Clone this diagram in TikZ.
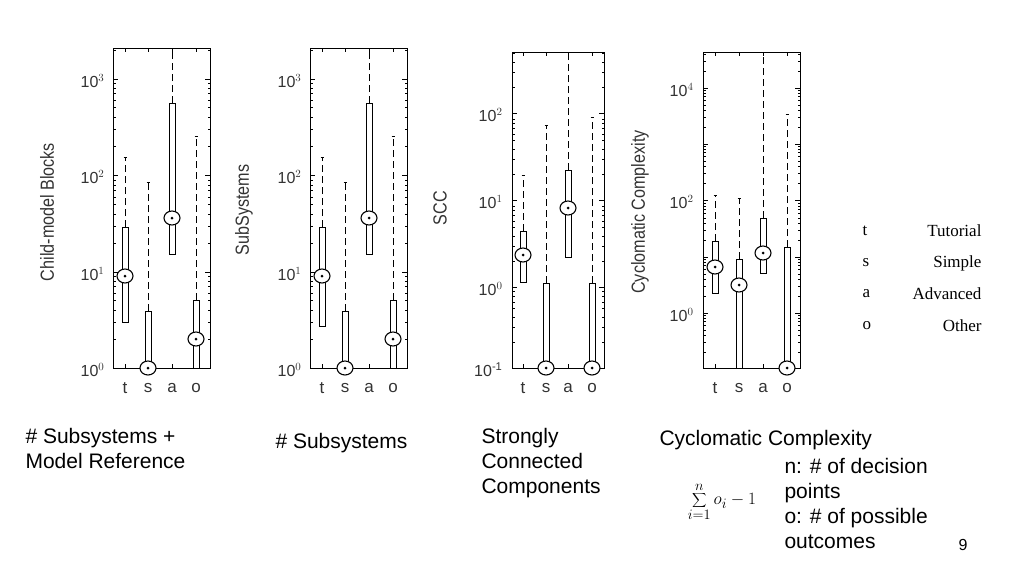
\documentclass[tikz,border=0pt]{standalone}
\usepackage{fontspec}
\setmainfont{Liberation Sans}
\newfontfamily\serifl{Liberation Serif}
\begin{document}
\begin{tikzpicture}[x=1pt,y=-1pt,
  whisk/.style={dash pattern=on 7pt off 4pt,line width=0.6pt},
  bx/.style={draw,line width=0.7pt,fill=white},
  ax/.style={line width=0.6pt},
  tl/.style={anchor=east,font=\fontsize{16}{16}\selectfont,text=black!80},
  ylab/.style={rotate=90,font=\fontsize{19}{19}\selectfont,text=black!80,xscale=0.85},
  captxt/.style={font=\fontsize{21}{25}\selectfont,anchor=west},
  leg/.style={font=\serifl\fontsize{17}{17}\selectfont}]
\path[use as bounding box] (0,0) rectangle (1024,576);
\newcommand\bpl[5]{%
  \draw[whisk] (#1,#3) -- (#1,#2);
  \draw[line width=0.8pt] (#1-1.5,#2) -- (#1+1.5,#2);
  \draw[bx] (#1-3,#3) rectangle (#1+3,#4);
  \draw[line width=1.1pt,fill=white] (#1,#5) ellipse (8pt and 7pt);
  \fill (#1,#5) circle (1.5pt);}
\newcommand\frm[4]{\draw[ax] (#1,#3) rectangle (#2,#4);}
\newcommand\dec[4]{%
  \foreach \m in {1,2,3,4,5,6,7,8,9}{%
    \pgfmathsetmacro\yy{#3-#4*log10(\m)}
    \pgfmathsetmacro\tkl{ifthenelse(\m==1,5,2.5)}
    \draw[ax] (#1,\yy) -- (#1+\tkl,\yy);
    \draw[ax] (#2,\yy) -- (#2-\tkl,\yy);}}
% ---- plot 1
\begin{scope}
\clip (100,48) rectangle (220,368.5);
\foreach \d in {368,272,175,79}{\dec{113}{210}{\d}{96.5}}
\end{scope}
\frm{113}{210}{48}{368}
\foreach \c in {125,148,172,196}{\draw[ax] (\c,48) -- (\c,52); \draw[ax] (\c,368) -- (\c,364);}
\bpl{125}{157}{227}{322}{276}
\bpl{148}{182}{311}{368}{368}
\bpl{172}{48}{103}{254}{218}
\bpl{196}{136}{300}{368}{339}
\node[tl] at (108,370) {10$^0$};
\node[tl] at (108,274) {10$^1$};
\node[tl] at (108,177) {10$^2$};
\node[tl] at (108,81) {10$^3$};
\node[ylab] at (47,212) {Child-model Blocks};
\foreach \c/\t in {125/t,148/s,172/a,196/o}{\node[font=\fontsize{17}{17}\selectfont,text=black!80] at (\c,388) {\t};}
% ---- plot 2
\begin{scope}
\clip (300,48) rectangle (420,368.5);
\foreach \d in {368,272,175,79}{\dec{310}{407}{\d}{96.5}}
\end{scope}
\frm{310}{407}{48}{368}
\foreach \c in {322,345,369,393}{\draw[ax] (\c,48) -- (\c,52); \draw[ax] (\c,368) -- (\c,364);}
\bpl{322}{157}{227}{326}{276}
\bpl{345}{182}{311}{368}{368}
\bpl{369}{48}{103}{254}{218}
\bpl{393}{136}{300}{368}{339}
\node[tl] at (305,370) {10$^0$};
\node[tl] at (305,274) {10$^1$};
\node[tl] at (305,177) {10$^2$};
\node[tl] at (305,81) {10$^3$};
\node[ylab] at (244,210) {SubSystems};
\foreach \c/\t in {322/t,345/s,369/a,393/o}{\node[font=\fontsize{17}{17}\selectfont,text=black!80] at (\c,388) {\t};}
% ---- plot 3
\begin{scope}
\clip (500,52) rectangle (615,368.5);
\foreach \d in {368,287,200,113,26}{\dec{512}{604}{\d}{85}}
\end{scope}
\frm{512}{604}{52}{368}
\foreach \c in {523,546,568,592}{\draw[ax] (\c,52) -- (\c,56); \draw[ax] (\c,368) -- (\c,364);}
\bpl{523}{175}{231}{282}{255}
\bpl{546}{125}{283}{368}{368}
\bpl{568}{52}{170}{257}{208}
\bpl{592}{117}{283}{368}{368}
\node[tl] at (506,370) {10\textsuperscript{-1}};
\node[tl] at (506,289) {10$^0$};
\node[tl] at (506,202) {10$^1$};
\node[tl] at (506,115) {10$^2$};
\node[ylab] at (440,208) {SCC};
\foreach \c/\t in {523/t,546/s,568/a,592/o}{\node[font=\fontsize{17}{17}\selectfont,text=black!80] at (\c,388) {\t};}
% ---- plot 4
\begin{scope}
\clip (690,52) rectangle (810,368.5);
\foreach \d in {425,369,313,257,200,144,88,32}{\dec{703}{800}{\d}{56}}
\end{scope}
\frm{703}{800}{52}{368}
\foreach \c in {715,739,763,787}{\draw[ax] (\c,52) -- (\c,56); \draw[ax] (\c,368) -- (\c,364);}
\bpl{715}{195}{241}{293}{267}
\bpl{739}{198}{259}{368}{285}
\bpl{763}{52}{218}{273}{253}
\bpl{787}{114}{247}{368}{368}
\node[tl] at (697,315) {10$^0$};
\node[tl] at (697,202) {10$^2$};
\node[tl] at (697,90) {10$^4$};
\node[ylab] at (640,212) {Cyclomatic Complexity};
\foreach \c/\t in {715/t,739/s,763/a,787/o}{\node[font=\fontsize{17}{17}\selectfont,text=black!80] at (\c,388) {\t};}
% ---- legend
\foreach \y/\a/\b in {231/t/Tutorial,263/s/Simple,294/a/Advanced,326/o/Other}{
  \node[leg,anchor=west] at (859,\y) {\a};
  \node[leg,anchor=east] at (985,\y) {\b};}
% ---- captions
\node[captxt,align=left,anchor=north west] at (22,425) {\# Subsystems +\\Model Reference};
\node[captxt] at (272,443) {\# Subsystems};
\node[captxt,align=left,anchor=north west] at (478,425) {Strongly\\Connected\\Components};
\node[captxt] at (656,440) {Cyclomatic Complexity};
\node[font=\fontsize{19}{19}\selectfont] at (722,502) {$\displaystyle\sum_{i=1}^{n} o_i - 1$};
\node[captxt,align=left,anchor=north west] at (781,455) {n: \# of decision\\points\\o: \# of possible\\outcomes};
\node[font=\fontsize{16}{16}\selectfont] at (963,545) {9};
\end{tikzpicture}
\end{document}
